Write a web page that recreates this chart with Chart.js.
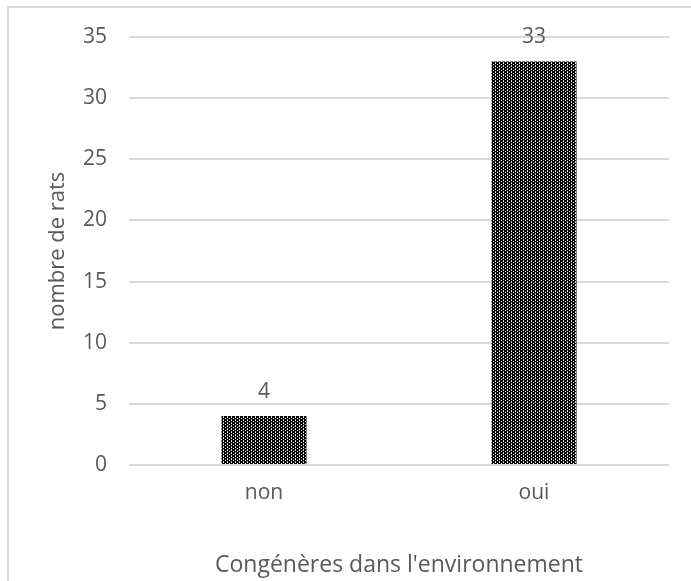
<!DOCTYPE html>
<html lang="fr">
<head>
    <meta charset="UTF-8">
    <title>Congénères dans l'environnement</title>
    <script src="https://cdn.jsdelivr.net/npm/chart.js"></script>
    <style>
        body {
            margin: 0;
            padding: 0;
            background: #fff;
            overflow: hidden;
        }
        .frame {
            position: absolute;
            left: 7px;
            top: 6px;
            width: 720px;
            height: 620px;
            border: 2px solid #d9d9d9;
        }
        .wrap {
            position: absolute;
            left: 0;
            top: 0;
            width: 691px;
            height: 581px;
        }
    </style>
</head>
<body>
    <div class="frame"></div>
    <div class="wrap">
        <canvas id="chart" width="691" height="581"></canvas>
    </div>

    <script>
        // data
        const categories = ['non', 'oui'];
        const ratCounts = [4, 33];
        const yTicks = [0, 5, 10, 15, 20, 25, 30, 35];

        const textColor = '#595959';
        const gridColor = '#d9d9d9';
        const fontFamily = "'Open Sans', sans-serif";

        // dotted fill like the excel pattern
        function makePattern() {
            const c = document.createElement('canvas');
            c.width = 4;
            c.height = 3;
            const g = c.getContext('2d');
            g.fillStyle = '#000';
            g.fillRect(0, 0, 4, 3);
            g.fillStyle = '#fff';
            g.fillRect(1, 1, 1, 1);
            g.fillRect(3, 0, 1, 1);
            g.fillStyle = '#bbb';
            g.fillRect(3, 2, 1, 1);
            return g.createPattern(c, 'repeat');
        }

        // value labels above bars
        const barLabels = {
            id: 'barLabels',
            afterDatasetsDraw(chart) {
                const ctx = chart.ctx;
                const meta = chart.getDatasetMeta(0);
                ctx.save();
                ctx.fillStyle = textColor;
                ctx.font = '21px ' + fontFamily;
                ctx.textAlign = 'center';
                ctx.textBaseline = 'middle';
                meta.data.forEach((bar, i) => {
                    ctx.fillText(String(ratCounts[i]), bar.x, bar.y - 24);
                });
                ctx.restore();
            }
        };

        const ctx = document.getElementById('chart').getContext('2d');
        new Chart(ctx, {
            type: 'bar',
            data: {
                labels: categories,
                datasets: [{
                    data: ratCounts,
                    backgroundColor: makePattern(),
                    borderWidth: 0,
                    categoryPercentage: 0.315,
                    barPercentage: 1
                }]
            },
            options: {
                responsive: false,
                animation: false,
                layout: { padding: { top: 37, right: 22, left: 0, bottom: 0 } },
                plugins: {
                    legend: { display: false },
                    tooltip: { enabled: false }
                },
                scales: {
                    x: {
                        grid: { display: false },
                        border: { display: false },
                        ticks: {
                            color: textColor,
                            font: { family: fontFamily, size: 21 },
                            padding: 7
                        },
                        title: {
                            display: true,
                            text: "Congénères dans l'environnement",
                            color: textColor,
                            font: { family: fontFamily, size: 23 },
                            padding: { top: 0, bottom: 2 }
                        },
                        afterFit(scale) { scale.height = 116; }
                    },
                    y: {
                        min: 0,
                        max: 35,
                        afterBuildTicks(scale) {
                            scale.ticks = yTicks.map(v => ({ value: v }));
                        },
                        grid: { color: gridColor, lineWidth: 2, drawTicks: false },
                        border: { display: false },
                        ticks: {
                            color: textColor,
                            font: { family: fontFamily, size: 21 },
                            padding: 22
                        },
                        title: {
                            display: true,
                            text: 'nombre de rats',
                            color: textColor,
                            font: { family: fontFamily, size: 22 },
                            padding: { top: 45, bottom: 0 }
                        },
                        afterFit(scale) { scale.width = 129; }
                    }
                }
            },
            plugins: [barLabels]
        });
    </script>
</body>
</html>
